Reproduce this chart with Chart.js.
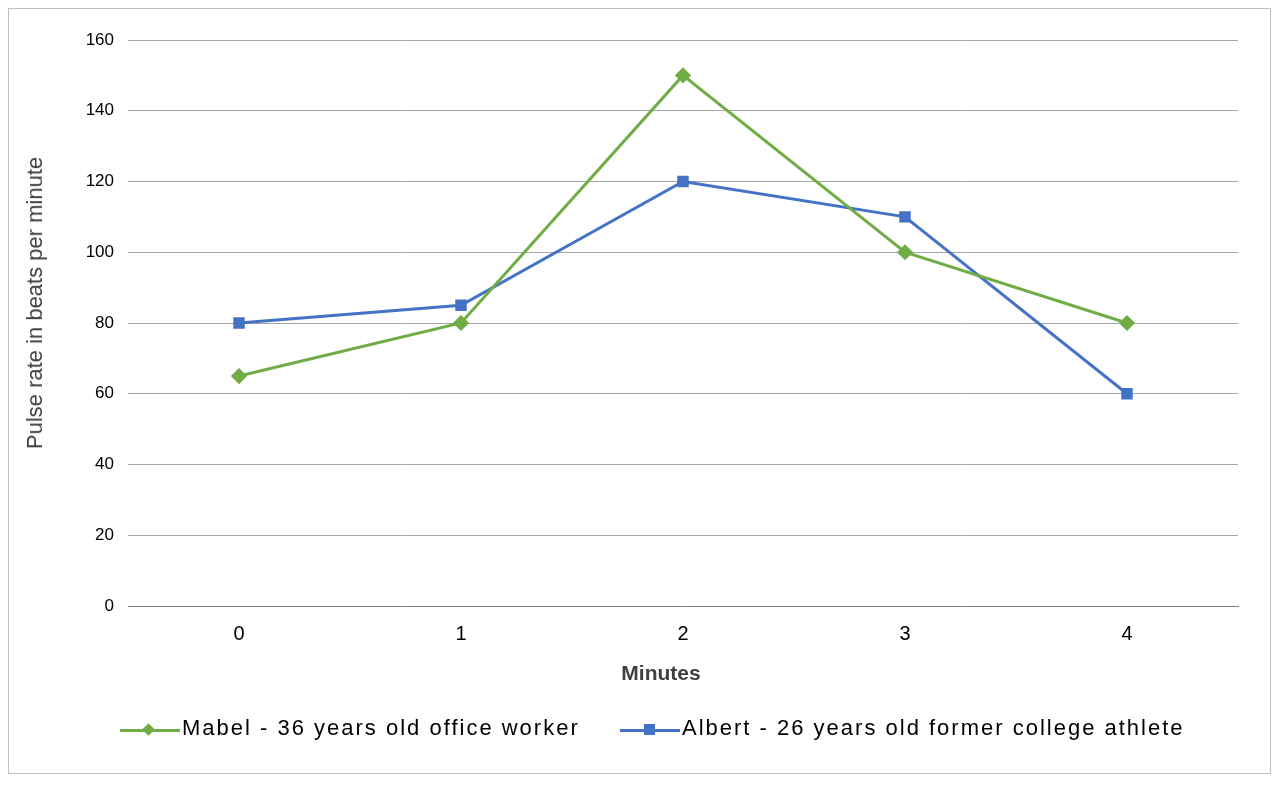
<!DOCTYPE html>
<html><head><meta charset="utf-8">
<script src="https://cdn.jsdelivr.net/npm/chart.js@4"></script>
<style>
body{margin:0;background:#fff;font-family:Arial,"Liberation Sans",sans-serif;}
#wrap{position:relative;width:1280px;height:791px;}
#frame{position:absolute;left:8px;top:8px;width:1261px;height:764px;border:1px solid #bfbfbf;}
canvas{position:absolute;left:0;top:0;}
#ytitle{position:absolute;left:35px;top:303px;transform:translate(-50%,-50%) rotate(-90deg);font-size:22px;color:#404040;white-space:nowrap;}
#xtitle{position:absolute;left:661px;top:673px;transform:translate(-50%,-50%);font-size:21px;font-weight:bold;color:#404040;}
.leg{position:absolute;top:728px;transform:translateY(-50%);font-size:22px;letter-spacing:2px;color:#000;white-space:nowrap;}
.sw{position:absolute;top:728px;height:3px;width:60px;}
.mk{position:absolute;}
</style></head><body>
<div id="wrap">
<div id="frame"></div>
<canvas id="c" width="1280" height="791"></canvas>
<div id="ytitle">Pulse rate in beats per minute</div>
<div id="xtitle">Minutes</div>
<div class="sw" style="left:120px;top:729px;background:#70AD47"></div>
<div class="mk" style="left:144px;top:725px;width:9px;height:9px;background:#70AD47;transform:rotate(45deg)"></div>
<div class="leg" style="left:182px">Mabel - 36 years old office worker</div>
<div class="sw" style="left:620px;top:729px;background:#4472C4"></div>
<div class="mk" style="left:644px;top:724px;width:11px;height:11px;background:#4472C4"></div>
<div class="leg" style="left:682px">Albert - 26 years old former college athlete</div>
</div>
<script>
const categories=["0","1","2","3","4"];
const mabel=[65,80,150,100,80];
const albert=[80,85,120,110,60];
new Chart(document.getElementById('c'),{
type:'line',
data:{labels:categories,datasets:[
{label:'Mabel',data:mabel,borderColor:'#70AD47',backgroundColor:'#70AD47',borderWidth:3,pointStyle:'rectRot',pointRadius:6,tension:0},
{label:'Albert',data:albert,borderColor:'#4472C4',backgroundColor:'#4472C4',borderWidth:3,pointStyle:'rect',pointRadius:6,tension:0}
]},
options:{responsive:false,animation:false,
layout:{padding:{top:40,right:42,bottom:0,left:0}},
plugins:{legend:{display:false},tooltip:{enabled:false}},
scales:{
x:{offset:true,grid:{display:false},border:{color:'#808080'},
 ticks:{color:'#000',font:{size:20,family:'Arial'},padding:8},
 afterFit:s=>{s.height=185;}},
y:{min:0,max:160,ticks:{stepSize:20,color:'#000',font:{size:17,family:'Arial'},padding:14},
 grid:{color:'#a6a6a6',drawTicks:false},border:{display:false},
 afterFit:s=>{s.width=128;}}
}}});
</script>
</body></html>
